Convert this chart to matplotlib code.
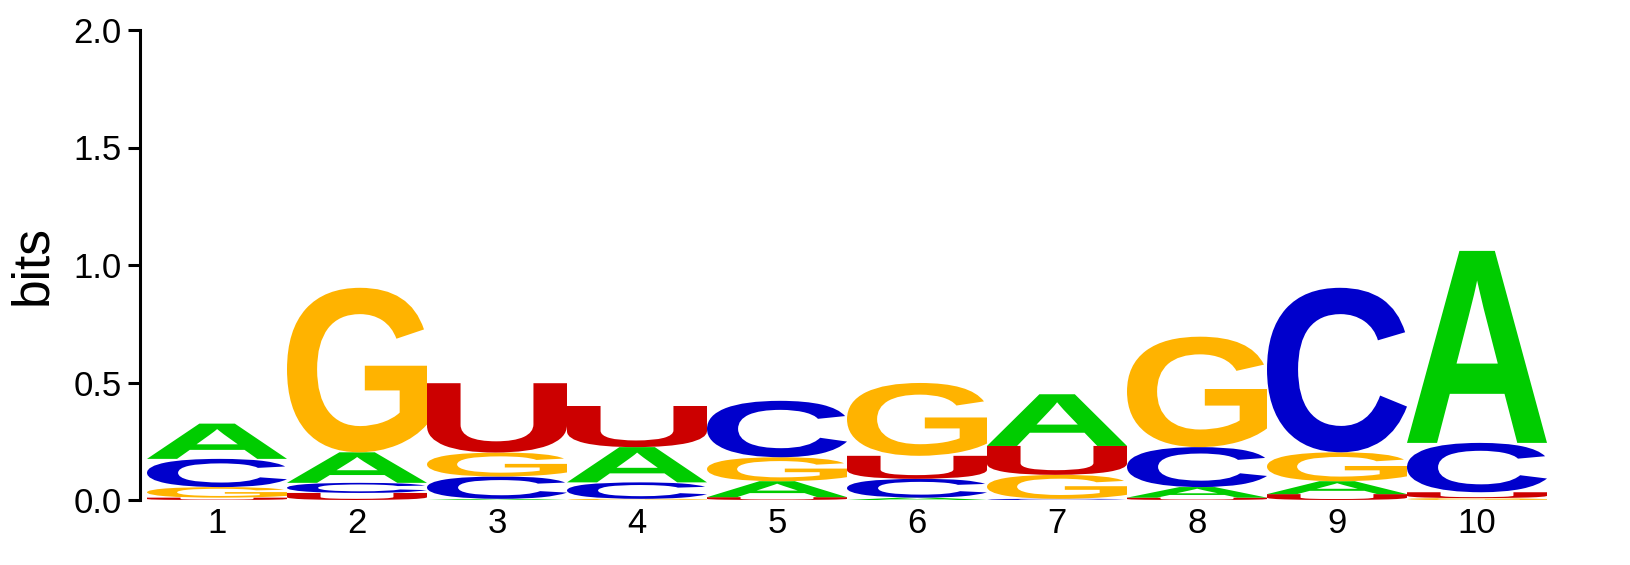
import matplotlib

matplotlib.use("Agg")
import matplotlib.pyplot as plt
import matplotlib.transforms as mtransforms
from matplotlib.textpath import TextPath
from matplotlib.font_manager import FontProperties
from matplotlib.patches import PathPatch

# === Data (bits per letter, per position) ===
positions = [1, 2, 3, 4, 5, 6, 7, 8, 9, 10]
letters = ["A", "C", "G", "U"]
heights_A = [0.150, 0.130, 0.005, 0.150, 0.068, 0.010, 0.220, 0.045, 0.055, 0.817]
heights_C = [0.120, 0.043, 0.095, 0.070, 0.240, 0.080, 0.005, 0.170, 0.700, 0.210]
heights_G = [0.045, 0.700, 0.102, 0.005, 0.102, 0.310, 0.102, 0.470, 0.123, 0.008]
heights_U = [0.010, 0.030, 0.295, 0.175, 0.012, 0.098, 0.123, 0.010, 0.025, 0.025]
yticks = [0.0, 0.5, 1.0, 1.5, 2.0]

colors = {"A": "#00CC00", "C": "#0000CC", "G": "#FFB300", "U": "#CC0000"}
heights = {"A": heights_A, "C": heights_C, "G": heights_G, "U": heights_U}

plt.rcParams["font.family"] = ["Liberation Sans", "DejaVu Sans"]
letter_font = FontProperties(family="Liberation Sans", weight="bold")


def draw_letter(ax, ch, x0, y0, w, h, color):
    tp = TextPath((0, 0), ch, size=1, prop=letter_font)
    bb = tp.get_extents()
    tr = (mtransforms.Affine2D()
          .translate(-bb.x0, -bb.y0)
          .scale(w / bb.width, h / bb.height)
          .translate(x0, y0))
    ax.add_patch(PathPatch(tr.transform_path(tp), facecolor=color,
                           edgecolor="none", lw=0))


fig = plt.figure(figsize=(16.3, 5.65), dpi=100)
ax = fig.add_axes([140 / 1630, 65 / 565, 1407 / 1630, 470 / 565])

for i, pos in enumerate(positions):
    stack = sorted(letters, key=lambda L: heights[L][i])
    y = 0.0
    for L in stack:
        h = heights[L][i]
        if h > 0:
            draw_letter(ax, L, pos - 0.5, y, 1.0, h, colors[L])
        y += h

ax.set_xlim(0.45, 10.5)
ax.set_ylim(0, 2.0)
ax.set_yticks(yticks)
ax.set_yticklabels([f"{v:.1f}" for v in yticks])
ax.set_xticks(positions)
ax.set_xticklabels([str(p) for p in positions])

for side in ["top", "right", "bottom"]:
    ax.spines[side].set_visible(False)
ax.spines["left"].set_linewidth(2.2)
ax.tick_params(axis="y", length=9, width=2.2, labelsize=25, pad=4)
ax.tick_params(axis="x", length=0, labelsize=25, pad=5)
ax.set_ylabel("bits", fontsize=37, labelpad=12)

fig.savefig("out.png", dpi=100)
